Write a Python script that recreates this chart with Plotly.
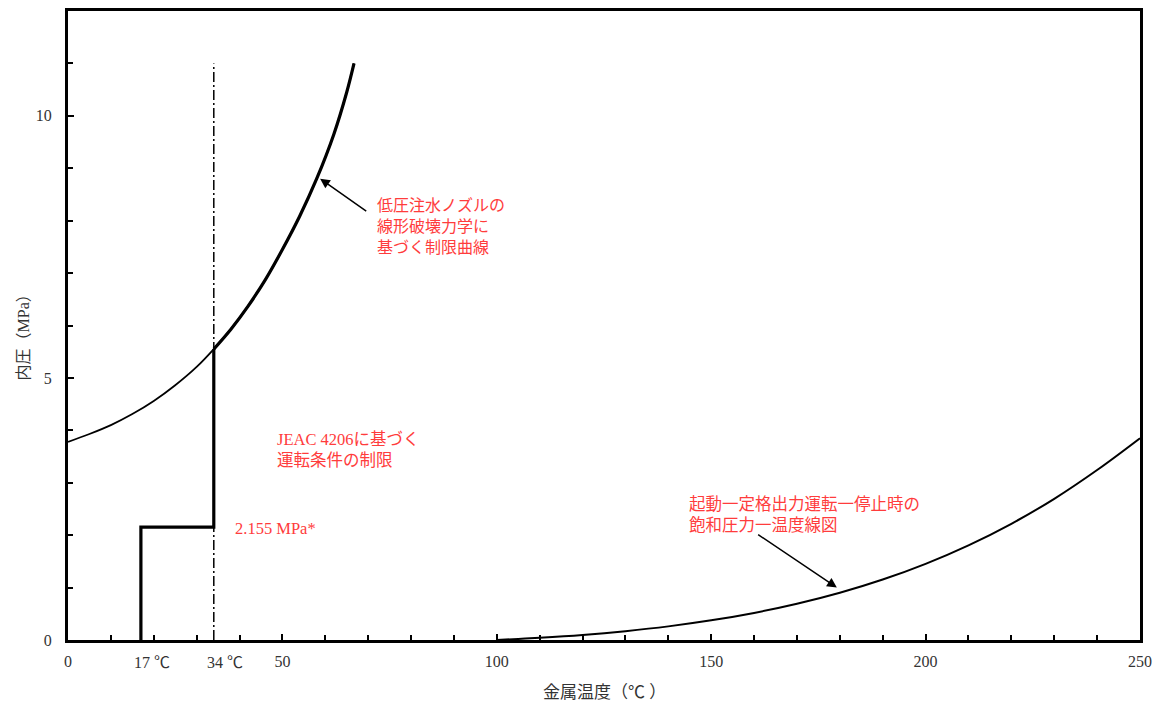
import plotly.graph_objects as go

# ---- data ----
limit_temp = [0, 5, 10, 15, 20, 25, 30, 34, 38, 42, 46, 50, 54, 58, 62, 65, 66.7]
limit_press = [3.78, 3.93, 4.10, 4.31, 4.56, 4.86, 5.21, 5.55, 5.93, 6.37, 6.87, 7.45, 8.08, 8.80, 9.65, 10.45, 11.0]

sat_temp = [100, 105, 110, 120, 130, 140, 150, 160, 170, 180, 190, 200, 210, 220, 230, 240, 250]
sat_press = [0.0, 0.02, 0.042, 0.097, 0.169, 0.260, 0.375, 0.517, 0.691, 0.901, 1.153, 1.453, 1.806, 2.217, 2.694, 3.243, 3.85]

jeac_temp = [17, 17, 34, 34]
jeac_press = [0, 2.155, 2.155, 5.55]

ref_temp = [34, 34]
ref_press = [0, 11.0]

x_tickvals = [0, 50, 100, 150, 200, 250]
x_ticktext = ["0", "50", "100", "150", "200", "250"]
y_tickvals = [0, 5, 10]
y_ticktext = ["0", "5", "10"]
extra_xlabels = [(17, "17 ℃"), (34, "34 ℃")]

RED = "#ff3c3c"
FONT = "Liberation Serif, Noto Sans CJK JP, serif"

split = 34
thick_x = [t for t in limit_temp if t >= split]
thick_y = [p for t, p in zip(limit_temp, limit_press) if t >= split]

fig = go.Figure()
fig.add_trace(go.Scatter(x=ref_temp, y=ref_press, mode="lines",
                         line=dict(color="black", width=1.5, dash="10px,3px,2px,3px")))
fig.add_trace(go.Scatter(x=limit_temp, y=limit_press, mode="lines",
                         line=dict(color="black", width=1.8, shape="spline")))
fig.add_trace(go.Scatter(x=thick_x, y=thick_y, mode="lines",
                         line=dict(color="black", width=3.2, shape="spline")))
fig.add_trace(go.Scatter(x=jeac_temp, y=jeac_press, mode="lines",
                         line=dict(color="black", width=3.2)))
fig.add_trace(go.Scatter(x=sat_temp, y=sat_press, mode="lines",
                         line=dict(color="black", width=2, shape="spline")))

ann = []
def txt(x, y, s, size=16.5):
    ann.append(dict(x=x, y=y, xref="x", yref="y", text=s, showarrow=False,
                    xanchor="left", yanchor="middle", align="left",
                    font=dict(family=FONT, size=size, color=RED)))

txt(71.6, 7.88, "低圧注水ノズルの<br>線形破壊力学に<br>基づく制限曲線", size=16)
txt(48.3, 3.63, "JEAC 4206に基づく<br>運転条件の制限")
txt(38.5, 2.13, "2.155 MPa*")
txt(144.3, 2.38, "起動一定格出力運転一停止時の<br>飽和圧力一温度線図")

# arrows
ann.append(dict(x=58.8, y=8.80, ax=69.9, ay=8.16, xref="x", yref="y", axref="x", ayref="y",
                showarrow=True, arrowhead=2, arrowsize=1.3, arrowwidth=1.5, arrowcolor="black", text=""))
ann.append(dict(x=179.3, y=1.0, ax=160.6, ay=2.03, xref="x", yref="y", axref="x", ayref="y",
                showarrow=True, arrowhead=2, arrowsize=1.3, arrowwidth=1.5, arrowcolor="black", text=""))

for xv, s in extra_xlabels:
    ann.append(dict(x=xv, y=0, xref="x", yref="paper", text=s, showarrow=False,
                    xanchor="left", yanchor="middle", xshift=-9, yshift=-22,
                    font=dict(family=FONT, size=16, color="#333")))

# axis titles
ann.append(dict(x=0.5, y=0, xref="paper", yref="paper", text="金属温度（℃ ）", showarrow=False,
                xanchor="center", yanchor="middle", yshift=-52,
                font=dict(family=FONT, size=17, color="#333")))
ann.append(dict(x=0, y=(640 - 333) / 52.5, xref="paper", yref="y", text="内圧（MPa）", showarrow=False,
                xanchor="center", yanchor="middle", xshift=-45, textangle=-90,
                font=dict(family=FONT, size=16, color="#333")))

fig.update_layout(
    width=1166, height=711,
    margin=dict(l=60, r=34, t=0, b=79),
    plot_bgcolor="white", paper_bgcolor="white",
    showlegend=False,
    annotations=ann,
    font=dict(family=FONT, size=16, color="#333"),
)
fig.update_xaxes(range=[0, 250], tickvals=x_tickvals, ticktext=x_ticktext,
                 ticks="inside", ticklen=6, tickwidth=1.5, tickcolor="black",
                 minor=dict(dtick=10, ticks="inside", ticklen=5, tickwidth=1.5, tickcolor="black"),
                 showline=True, linewidth=3, linecolor="black", mirror=True,
                 showgrid=False, zeroline=False, ticklabelstandoff=5,
                 tickfont=dict(family=FONT, size=16, color="#333"))
fig.update_yaxes(range=[0, 12], tickvals=y_tickvals, ticktext=y_ticktext,
                 ticks="inside", ticklen=6, tickwidth=1.5, tickcolor="black",
                 minor=dict(dtick=1, ticks="inside", ticklen=5, tickwidth=1.5, tickcolor="black"),
                 showline=True, linewidth=3, linecolor="black", mirror=True,
                 showgrid=False, zeroline=False, ticklabelstandoff=10,
                 tickfont=dict(family=FONT, size=16, color="#333"))

fig.write_html("out.html")
